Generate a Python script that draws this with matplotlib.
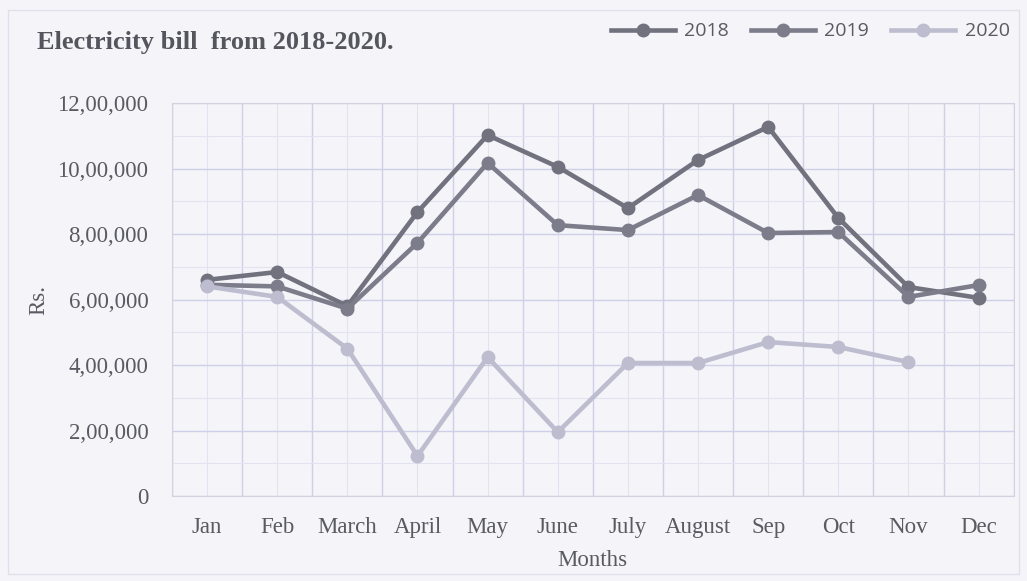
import numpy as np
import matplotlib.pyplot as plt
from matplotlib.patches import Rectangle

months = ['Jan', 'Feb', 'March', 'April', 'May', 'June',
          'July', 'August', 'Sep', 'Oct', 'Nov', 'Dec']
bill_2018 = [660000, 684000, 580000, 867000, 1102000, 1005000,
             879000, 1026000, 1127000, 849000, 638000, 605000]
bill_2019 = [645000, 640000, 572000, 773000, 1017000, 827000,
             812000, 919000, 803000, 806000, 608000, 644000]
bill_2020 = [640000, 608000, 450000, 122000, 424000, 195000,
             406000, 406000, 470000, 455000, 409000, np.nan]

yticks = [0, 200000, 400000, 600000, 800000, 1000000, 1200000]
ytick_labels = ['0', '2,00,000', '4,00,000', '6,00,000', '8,00,000', '10,00,000', '12,00,000']

bg = '#f4f4f9'
text_col = '#5a5a62'
serif = ['Liberation Serif', 'DejaVu Serif']

fig = plt.figure(figsize=(10.27, 5.81), dpi=100, facecolor=bg)
ax = fig.add_axes([0.1675, 0.1463, 0.8195, 0.6764], facecolor=bg)

x = np.arange(len(months))
ax.plot(x, bill_2018, color='#72727f', lw=3.3, marker='o', ms=9, label='2018')
ax.plot(x, bill_2019, color='#7c7c8a', lw=3.3, marker='o', ms=9, label='2019')
ax.plot(x, bill_2020, color='#bdbdcf', lw=3.3, marker='o', ms=9, label='2020')

ax.set_xlim(-0.5, 11.5)
ax.set_ylim(0, 1200000)
ax.set_xticks(x, months)
ax.set_xticks(np.arange(-0.5, 12, 1), minor=True)
ax.set_yticks(yticks, ytick_labels)
ax.set_yticks(np.arange(100000, 1200000, 200000), minor=True)
ax.tick_params(which='both', length=0, colors=text_col, labelsize=16.5)
ax.tick_params(axis='x', pad=15)
ax.tick_params(axis='y', pad=17)
for lab in ax.get_xticklabels() + ax.get_yticklabels():
    lab.set_family(serif)

ax.grid(which='minor', axis='x', color='#cfcfe8', lw=1.0)
ax.grid(which='major', axis='x', color='#e2e2f0', lw=0.8)
ax.grid(which='major', axis='y', color='#cfcfe8', lw=1.0)
ax.grid(which='minor', axis='y', color='#e2e2f0', lw=0.8)
ax.set_axisbelow(True)
for s in ax.spines.values():
    s.set_color('#d2d2e2')

ax.set_xlabel('Months', family=serif, fontsize=16.5, color=text_col, labelpad=9)
ax.set_ylabel('Rs.', family=serif, fontsize=16.5, color=text_col, labelpad=6)

fig.text(0.036, 0.926, 'Electricity bill  from 2018-2020.', family=serif,
         fontsize=19, fontweight='bold', color='#55555e', va='center')

leg = fig.legend(loc='center right', bbox_to_anchor=(1.0, 0.946), ncol=3, frameon=False,
                 prop={'family': 'Open Sans', 'size': 14}, handlelength=3.3,
                 columnspacing=1.1, handletextpad=0.5)
for t in leg.get_texts():
    t.set_color(text_col)

fig.patches.append(Rectangle((0.008, 0.012), 0.984, 0.97, transform=fig.transFigure,
                             fill=False, ec='#e0e0ea', lw=1))

fig.savefig('out.png', dpi=100, facecolor=bg)
